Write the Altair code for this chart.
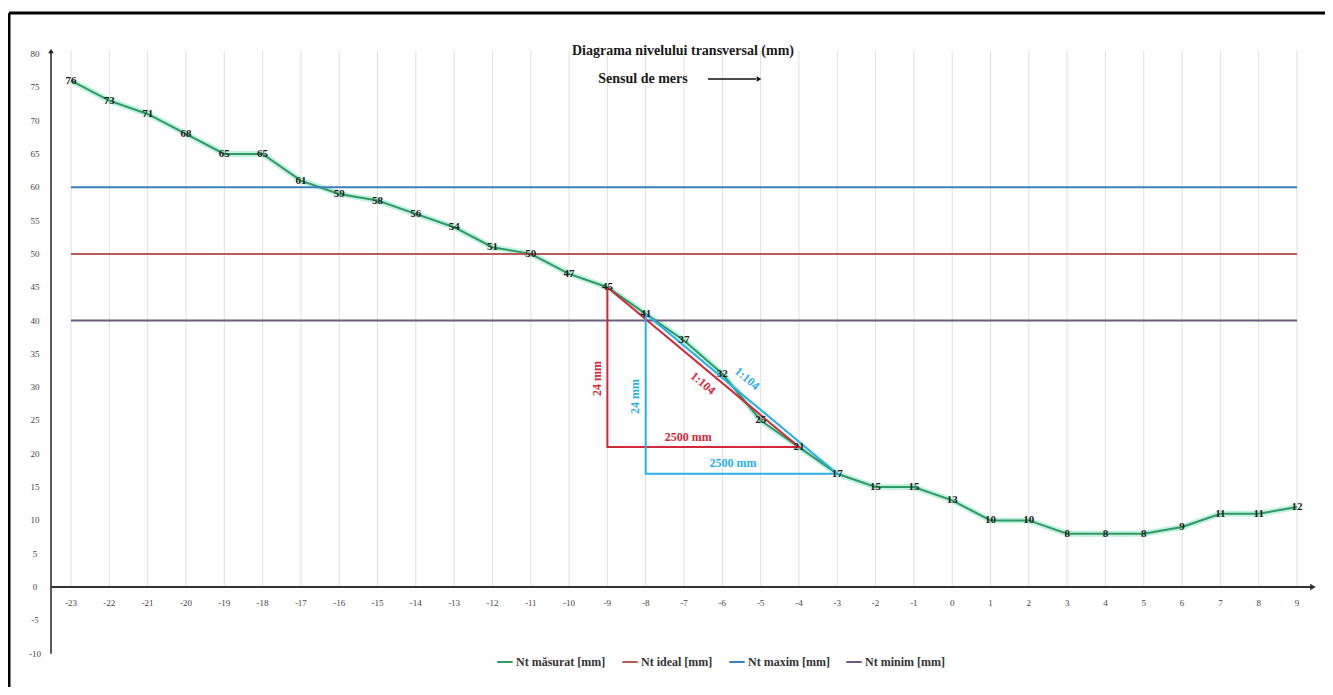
import altair as alt
import pandas as pd

# ---------------- data ----------------
x_pos = list(range(-23, 10))
nt_masurat = [76, 73, 71, 68, 65, 65, 61, 59, 58, 56, 54, 51, 50, 47, 45, 41, 37,
              32, 25, 21, 17, 15, 15, 13, 10, 10, 8, 8, 8, 9, 11, 11, 12]

series_names = ["Nt măsurat [mm]", "Nt ideal [mm]", "Nt maxim [mm]", "Nt minim [mm]"]
ref_names = ["Nt ideal [mm]", "Nt maxim [mm]", "Nt minim [mm]"]
ref_levels = [50, 60, 40]

y_ticks = list(range(-10, 81, 5))
y_tick_labels = [str(v) for v in y_ticks]
x_ticks = list(range(-23, 10))
x_tick_labels = [str(v) for v in x_ticks]

# slope triangles (vertices, closed)
tri_red_x = [-9, -9, -4, -9]
tri_red_y = [45, 21, 21, 45]
tri_blue_x = [-8, -8, -3, -8]
tri_blue_y = [41, 17, 17, 41]

red_label_text = ["24 mm", "2500 mm", "1:104"]
red_label_x = [-9.27, -6.89, -6.50]
red_label_y = [31.3, 22.5, 30.6]

blue_label_text = ["24 mm", "2500 mm", "1:104"]
blue_label_x = [-8.28, -5.72, -5.35]
blue_label_y = [28.6, 18.6, 31.3]

title_text = "Diagrama nivelului transversal (mm)"
direction_text = "Sensul de mers"

# ---------------- layout / styles ----------------
W, H = 1316, 674
FONT = "Liberation Serif"
PX_X0, PX_X1 = 62.0, 1288.0     # view pixels of x = -23 and x = 9
PX_Y0, PX_Y80 = 574.0, 41.0     # view pixels of y = 0 and y = 80
sx = (PX_X1 - PX_X0) / 32.0
sy = (PX_Y0 - PX_Y80) / 80.0


def px2x(p):
    return -23 + (p - PX_X0) / sx


def px2y(p):
    return (PX_Y0 - p) / sy


XS = alt.Scale(domain=[px2x(0), px2x(W)], nice=False, zero=False)
YS = alt.Scale(domain=[px2y(H), px2y(0)], nice=False, zero=False)
AX_LEFT = px2x(42)
AX_RIGHT = px2x(1304)
Y_TOP = px2y(38)

C_GREEN = "#2f9a63"
C_GLOW = "#8fe6c8"
C_IDEAL = "#b85a55"
C_MAX = "#3a80c0"
C_MIN = "#6a5c7e"
C_RED = "#d3283a"
C_BLUE = "#2ab0e6"

rows = []
for xv, v in zip(x_pos, nt_masurat):
    rows.append({"series": series_names[0], "x": xv, "v": v})
for name, lvl in zip(ref_names, ref_levels):
    rows.append({"series": name, "x": x_pos[0], "v": lvl})
    rows.append({"series": name, "x": x_pos[-1], "v": lvl})
lines_df = pd.DataFrame(rows)

meas = pd.DataFrame({"x": x_pos, "v": nt_masurat})
grid = pd.DataFrame({"x": x_ticks, "y": [0] * len(x_ticks), "y2": [80.5] * len(x_ticks)})
ytk = pd.DataFrame({"y": y_ticks, "t": y_tick_labels, "x": [AX_LEFT] * len(y_ticks)})
xtk = pd.DataFrame({"x": x_ticks, "t": x_tick_labels, "y": [0] * len(x_ticks)})
tri_red = pd.DataFrame({"x": tri_red_x, "y": tri_red_y, "o": list(range(len(tri_red_x)))})
tri_blue = pd.DataFrame({"x": tri_blue_x, "y": tri_blue_y, "o": list(range(len(tri_blue_x)))})


def X(f):
    return alt.X(f, scale=XS, axis=None)


def Y(f):
    return alt.Y(f, scale=YS, axis=None)


# gridlines
grid_layer = alt.Chart(grid).mark_rule(color="#e0e0e0", strokeWidth=1).encode(
    x=X("x:Q"), y=Y("y:Q"), y2="y2:Q")

# measured glow
glow = alt.Chart(meas).mark_line(color=C_GLOW, strokeWidth=6, opacity=0.55).encode(
    x=X("x:Q"), y=Y("v:Q"))

# all four series
lines = alt.Chart(lines_df).mark_line(strokeWidth=2).encode(
    x=X("x:Q"), y=Y("v:Q"),
    color=alt.Color("series:N",
                    scale=alt.Scale(domain=series_names, range=[C_GREEN, C_IDEAL, C_MAX, C_MIN]),
                    legend=alt.Legend(orient="none", legendX=487, legendY=640,
                                      direction="horizontal", title=None,
                                      symbolType="stroke", symbolSize=240,
                                      symbolStrokeWidth=2, labelFont=FONT,
                                      labelFontWeight="bold", labelFontSize=12,
                                      labelColor="#333333", columnPadding=12,
                                      labelOffset=2)))

# axes lines
yax_df = pd.DataFrame({"x": [AX_LEFT], "y": [-10], "y2": [Y_TOP]})
y_axis = alt.Chart(yax_df).mark_rule(color="#222222", strokeWidth=1.5).encode(
    x=X("x:Q"), y=Y("y:Q"), y2="y2:Q")
y_arrow = alt.Chart(pd.DataFrame({"x": [AX_LEFT], "y": [Y_TOP]})).mark_point(
    shape="triangle-up", filled=True, size=30, color="#222222", opacity=1).encode(
    x=X("x:Q"), y=Y("y:Q"))
xax_df = pd.DataFrame({"x": [AX_LEFT], "x2": [AX_RIGHT], "y": [0]})
x_axis = alt.Chart(xax_df).mark_rule(color="#333333", strokeWidth=2).encode(
    x=X("x:Q"), x2="x2:Q", y=Y("y:Q"))
x_arrow = alt.Chart(pd.DataFrame({"x": [AX_RIGHT], "y": [0]})).mark_point(
    shape="triangle-right", filled=True, size=45, color="#333333", opacity=1).encode(
    x=X("x:Q"), y=Y("y:Q"))

# tick labels
y_labels = alt.Chart(ytk).mark_text(font=FONT, fontSize=9, color="#444444", dx=-16,
                                    align="center", baseline="middle").encode(
    x=X("x:Q"), y=Y("y:Q"), text="t:N")
x_labels = alt.Chart(xtk).mark_text(font=FONT, fontSize=9, color="#444444", dy=16,
                                    align="center", baseline="middle").encode(
    x=X("x:Q"), y=Y("y:Q"), text="t:N")

# triangles
tri_r = alt.Chart(tri_red).mark_line(strokeWidth=2, color=C_RED).encode(
    x=X("x:Q"), y=Y("y:Q"), order="o:Q")
tri_b = alt.Chart(tri_blue).mark_line(strokeWidth=2, color=C_BLUE).encode(
    x=X("x:Q"), y=Y("y:Q"), order="o:Q")

point_labels = alt.Chart(meas).mark_text(font=FONT, fontSize=11, fontWeight="bold",
                                         color="#1e1e1e", baseline="middle").encode(
    x=X("x:Q"), y=Y("v:Q"), text="v:Q")


def tri_text(txt, xs, ys, idx, angle, color):
    df = pd.DataFrame({"t": [txt[idx]], "x": [xs[idx]], "y": [ys[idx]]})
    return alt.Chart(df).mark_text(font=FONT, fontSize=12, fontWeight="bold",
                                   baseline="middle", align="center", color=color,
                                   angle=angle).encode(
        x=X("x:Q"), y=Y("y:Q"), text="t:N")


tri_texts = []
for i, ang in enumerate([270, 0, 40]):
    tri_texts.append(tri_text(red_label_text, red_label_x, red_label_y, i, ang, C_RED))
    tri_texts.append(tri_text(blue_label_text, blue_label_x, blue_label_y, i, ang, C_BLUE))

# title and direction
title_layer = alt.Chart(pd.DataFrame({"t": [title_text], "x": [px2x(674)], "y": [px2y(38)]})).mark_text(
    font=FONT, fontSize=14, fontWeight="bold", color="#1a1a1a", baseline="middle").encode(
    x=X("x:Q"), y=Y("y:Q"), text="t:N")
dir_layer = alt.Chart(pd.DataFrame({"t": [direction_text], "x": [px2x(634)], "y": [px2y(66)]})).mark_text(
    font=FONT, fontSize=14, fontWeight="bold", color="#1a1a1a", baseline="middle").encode(
    x=X("x:Q"), y=Y("y:Q"), text="t:N")
dir_rule = alt.Chart(pd.DataFrame({"x": [px2x(699)], "x2": [px2x(747)], "y": [px2y(66)]})).mark_rule(
    color="#111111", strokeWidth=1.5).encode(x=X("x:Q"), x2="x2:Q", y=Y("y:Q"))
dir_head = alt.Chart(pd.DataFrame({"x": [px2x(750)], "y": [px2y(66)]})).mark_point(
    shape="triangle-right", filled=True, size=30, color="#111111", opacity=1).encode(
    x=X("x:Q"), y=Y("y:Q"))

# frame (left and top borders)
frame_left = alt.Chart(pd.DataFrame({"x": [px2x(0)], "y": [px2y(H)], "y2": [px2y(0)]})).mark_rule(
    color="#000000", strokeWidth=3).encode(x=X("x:Q"), y=Y("y:Q"), y2="y2:Q")
frame_top = alt.Chart(pd.DataFrame({"x": [px2x(0)], "x2": [px2x(W)], "y": [px2y(0)]})).mark_rule(
    color="#000000", strokeWidth=3).encode(x=X("x:Q"), x2="x2:Q", y=Y("y:Q"))

chart = alt.layer(
    grid_layer, glow, lines, tri_r, tri_b,
    y_axis, y_arrow, x_axis, x_arrow, y_labels, x_labels,
    point_labels, *tri_texts, title_layer, dir_layer, dir_rule, dir_head,
    frame_left, frame_top,
).properties(
    width=W, height=H,
    autosize=alt.AutoSizeParams(type="none"),
    padding={"left": 1, "top": 5, "right": 0, "bottom": 0},
    background="white",
).configure_view(strokeWidth=0)

chart.save("out.html", embed_options={"renderer": "svg", "actions": False})
